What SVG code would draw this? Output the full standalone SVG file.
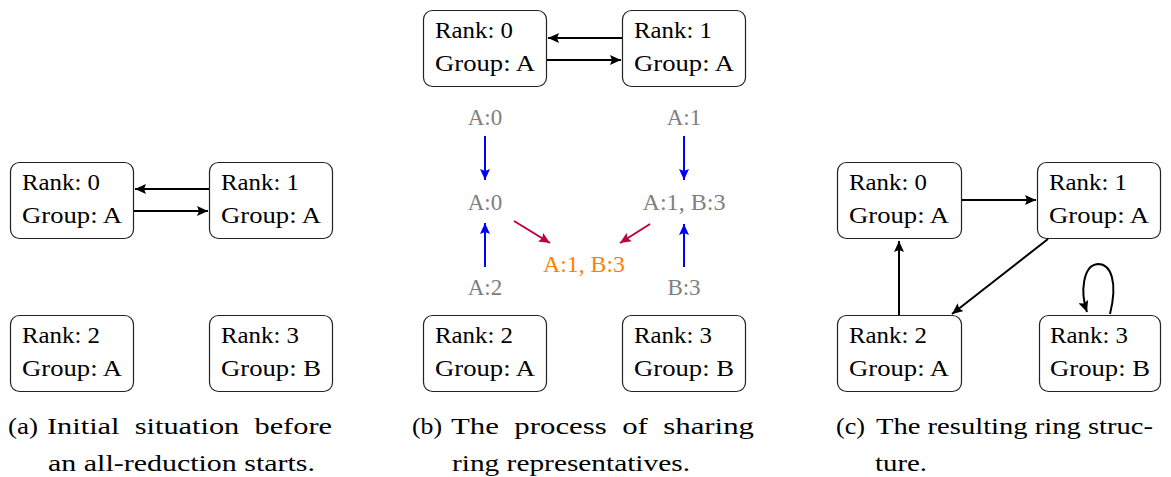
<svg xmlns="http://www.w3.org/2000/svg" width="1171" height="477" viewBox="0 0 1171 477">
<style>
.box{fill:#fff;stroke:#222;stroke-width:1.2}
.t{font-family:"Liberation Serif","Times New Roman",serif;font-size:23px;fill:#000}
.g{font-family:"Liberation Serif","Times New Roman",serif;font-size:23px;fill:#808080;text-anchor:middle}
.o{font-family:"Liberation Serif","Times New Roman",serif;font-size:23px;fill:#ff8000;text-anchor:middle}
.cap{font-family:"Liberation Serif","Times New Roman",serif;font-size:24px;fill:#000}
.k{stroke:#000;stroke-width:2;fill:none;marker-end:url(#ak)}
.b{stroke:#0000ff;stroke-width:2;fill:none;marker-end:url(#ab)}
.r{stroke:#bf0040;stroke-width:2;fill:none;marker-end:url(#ar)}
</style>
<defs>
<marker id="ak" markerUnits="userSpaceOnUse" markerWidth="12" markerHeight="10" refX="11" refY="5" orient="auto"><path d="M0,0 L11,5 L0,10 L2,5 Z" fill="#000"/></marker>
<marker id="ab" markerUnits="userSpaceOnUse" markerWidth="12" markerHeight="10" refX="11" refY="5" orient="auto"><path d="M0,0 L11,5 L0,10 L2,5 Z" fill="#0000ff"/></marker>
<marker id="ar" markerUnits="userSpaceOnUse" markerWidth="12" markerHeight="10" refX="11" refY="5" orient="auto"><path d="M0,0 L11,5 L0,10 L2,5 Z" fill="#bf0040"/></marker>
</defs>

<!-- Panel a -->
<g id="a-rank0"><rect class="box" x="10.5" y="162.5" width="123" height="76" rx="9"/><text class="t" x="22" y="190" textLength="78" lengthAdjust="spacingAndGlyphs">Rank: 0</text><text class="t" x="22" y="223" textLength="100" lengthAdjust="spacingAndGlyphs">Group: A</text></g>
<g id="a-rank1"><rect class="box" x="209.5" y="162.5" width="123" height="76" rx="9"/><text class="t" x="221" y="190" textLength="78" lengthAdjust="spacingAndGlyphs">Rank: 1</text><text class="t" x="221" y="223" textLength="100" lengthAdjust="spacingAndGlyphs">Group: A</text></g>
<g id="a-rank2"><rect class="box" x="10.5" y="315.5" width="123" height="76" rx="9"/><text class="t" x="22" y="343" textLength="78" lengthAdjust="spacingAndGlyphs">Rank: 2</text><text class="t" x="22" y="376" textLength="100" lengthAdjust="spacingAndGlyphs">Group: A</text></g>
<g id="a-rank3"><rect class="box" x="209.5" y="315.5" width="123" height="76" rx="9"/><text class="t" x="221" y="343" textLength="78" lengthAdjust="spacingAndGlyphs">Rank: 3</text><text class="t" x="221" y="376" textLength="100" lengthAdjust="spacingAndGlyphs">Group: B</text></g>

<!-- Panel b -->
<g id="b-rank0"><rect class="box" x="423.5" y="10.5" width="123" height="76" rx="9"/><text class="t" x="435" y="38" textLength="78" lengthAdjust="spacingAndGlyphs">Rank: 0</text><text class="t" x="435" y="71" textLength="100" lengthAdjust="spacingAndGlyphs">Group: A</text></g>
<g id="b-rank1"><rect class="box" x="622.5" y="10.5" width="123" height="76" rx="9"/><text class="t" x="634" y="38" textLength="78" lengthAdjust="spacingAndGlyphs">Rank: 1</text><text class="t" x="634" y="71" textLength="100" lengthAdjust="spacingAndGlyphs">Group: A</text></g>
<g id="b-rank2"><rect class="box" x="423.5" y="315.5" width="123" height="76" rx="9"/><text class="t" x="435" y="343" textLength="78" lengthAdjust="spacingAndGlyphs">Rank: 2</text><text class="t" x="435" y="376" textLength="100" lengthAdjust="spacingAndGlyphs">Group: A</text></g>
<g id="b-rank3"><rect class="box" x="622.5" y="315.5" width="123" height="76" rx="9"/><text class="t" x="634" y="343" textLength="78" lengthAdjust="spacingAndGlyphs">Rank: 3</text><text class="t" x="634" y="376" textLength="100" lengthAdjust="spacingAndGlyphs">Group: B</text></g>
<g id="b-labels">
<text class="g" x="485" y="125">A:0</text>
<text class="g" x="684" y="125">A:1</text>
<text class="g" x="485" y="210">A:0</text>
<text class="g" x="684" y="210" textLength="83" lengthAdjust="spacingAndGlyphs">A:1, B:3</text>
<text class="g" x="485" y="295">A:2</text>
<text class="g" x="684" y="295">B:3</text>
<text class="o" x="584" y="272" textLength="82" lengthAdjust="spacingAndGlyphs">A:1, B:3</text>
</g>

<!-- Panel c -->
<g id="c-rank0"><rect class="box" x="837.5" y="162.5" width="124" height="76" rx="9"/><text class="t" x="849" y="190" textLength="78" lengthAdjust="spacingAndGlyphs">Rank: 0</text><text class="t" x="849" y="223" textLength="100" lengthAdjust="spacingAndGlyphs">Group: A</text></g>
<g id="c-rank1"><rect class="box" x="1037.5" y="162.5" width="123" height="76" rx="9"/><text class="t" x="1049" y="190" textLength="78" lengthAdjust="spacingAndGlyphs">Rank: 1</text><text class="t" x="1049" y="223" textLength="100" lengthAdjust="spacingAndGlyphs">Group: A</text></g>
<g id="c-rank2"><rect class="box" x="837.5" y="315.5" width="124" height="76" rx="9"/><text class="t" x="849" y="343" textLength="78" lengthAdjust="spacingAndGlyphs">Rank: 2</text><text class="t" x="849" y="376" textLength="100" lengthAdjust="spacingAndGlyphs">Group: A</text></g>
<g id="c-rank3"><rect class="box" x="1039.5" y="315.5" width="121" height="76" rx="9"/><text class="t" x="1050" y="343" textLength="78" lengthAdjust="spacingAndGlyphs">Rank: 3</text><text class="t" x="1050" y="376" textLength="100" lengthAdjust="spacingAndGlyphs">Group: B</text></g>

<g id="connectors">
<line class="k" x1="209" y1="189" x2="135" y2="189"/>
<line class="k" x1="134" y1="211" x2="208" y2="211"/>
<line class="k" x1="622" y1="38" x2="548" y2="38"/>
<line class="k" x1="547" y1="60" x2="621" y2="60"/>
<line class="b" x1="485" y1="136" x2="485" y2="180"/>
<line class="b" x1="684" y1="136" x2="684" y2="180"/>
<line class="b" x1="485" y1="267" x2="485" y2="223"/>
<line class="b" x1="684" y1="267" x2="684" y2="224"/>
<line class="r" x1="514" y1="221" x2="550" y2="243"/>
<line class="r" x1="650" y1="224" x2="620" y2="243"/>
<line class="k" x1="962" y1="200" x2="1036" y2="200"/>
<line class="k" x1="1048" y1="239" x2="952" y2="314"/>
<line class="k" x1="899" y1="315" x2="899" y2="241"/>
<path class="k" d="M1110,314 C1118,282 1111,264 1098,264 C1083,265 1080,292 1087,312"/>
</g>

<g id="captions">
<text class="cap" x="8" y="434" textLength="30" lengthAdjust="spacingAndGlyphs">(a)</text>
<text class="cap" x="47" y="434" word-spacing="6" textLength="285" lengthAdjust="spacingAndGlyphs">Initial situation before</text>
<text class="cap" x="48" y="471" textLength="267" lengthAdjust="spacingAndGlyphs">an all-reduction starts.</text>
<text class="cap" x="412" y="434" textLength="30" lengthAdjust="spacingAndGlyphs">(b)</text>
<text class="cap" x="451" y="434" word-spacing="6" textLength="303" lengthAdjust="spacingAndGlyphs">The process of sharing</text>
<text class="cap" x="452" y="471" textLength="238" lengthAdjust="spacingAndGlyphs">ring representatives.</text>
<text class="cap" x="836" y="434" textLength="29" lengthAdjust="spacingAndGlyphs">(c)</text>
<text class="cap" x="876" y="434" textLength="277" lengthAdjust="spacingAndGlyphs">The resulting ring struc-</text>
<text class="cap" x="875" y="471" textLength="52" lengthAdjust="spacingAndGlyphs">ture.</text>
</g>
</svg>
